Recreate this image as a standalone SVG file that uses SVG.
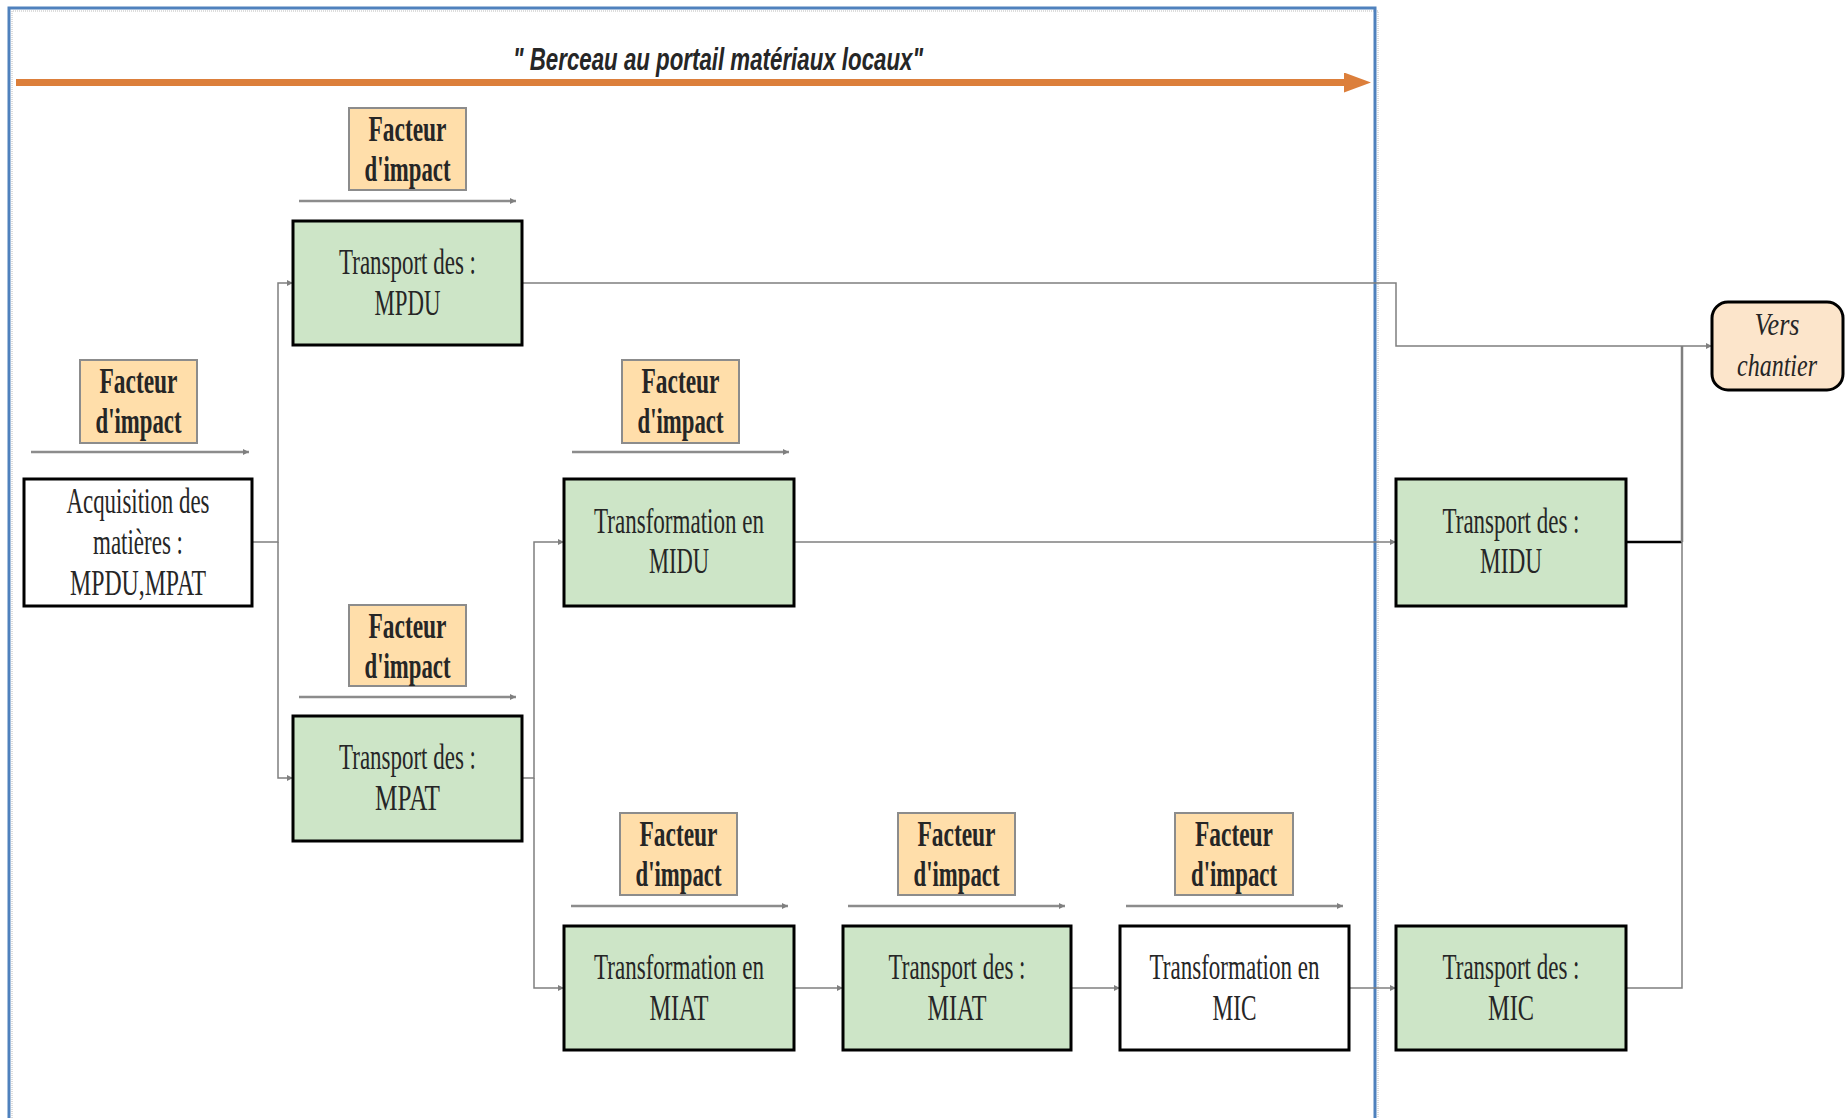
<svg xmlns="http://www.w3.org/2000/svg" width="1847" height="1118" viewBox="0 0 1847 1118">
<defs>
<style>
.box{stroke:#000;stroke-width:3}
.green{fill:#CDE5C7}
.white{fill:#fff}
.fi{fill:#FFDEAA;stroke:#8C8C8C;stroke-width:2}
.vc{fill:#FCE5CB;stroke:#000;stroke-width:3}
.t{font-family:"Liberation Serif","Times New Roman",serif;font-size:35px;fill:#262626;text-anchor:middle}
.b{font-weight:bold}
.i{font-style:italic;font-size:32px}
.conn{stroke:#7F7F7F;stroke-width:1.5;fill:none}
.ul{stroke:#8C8C8C;stroke-width:2.5;fill:none}
</style>
<marker id="ah" viewBox="0 0 6 6" refX="6" refY="3" markerWidth="6" markerHeight="6" markerUnits="userSpaceOnUse" orient="auto">
<path d="M0,0 L6,3 L0,6 z" fill="#7F7F7F"/>
</marker>
<marker id="oa" viewBox="0 0 27 20" refX="0" refY="10" markerWidth="27" markerHeight="20" markerUnits="userSpaceOnUse" orient="auto">
<path d="M0,0 L27,10 L0,20 z" fill="#DC7F3B"/>
</marker>
</defs>
<rect width="1847" height="1118" fill="#fff"/>

<g id="frame">
<path d="M12,1118 V11 H1378 V1118" fill="none" stroke="#BBBBBB" stroke-width="1" stroke-dasharray="1,1"/>
<path d="M9,1118 V8 H1375 V1118" fill="none" stroke="#4F81BD" stroke-width="3"/>
</g>

<g id="title">
<line x1="16" y1="82.5" x2="1344" y2="82.5" stroke="#DC7F3B" stroke-width="7" marker-end="url(#oa)"/>
<text x="513" y="70" font-family="Liberation Sans, Arial, sans-serif" font-size="32" font-weight="bold" font-style="italic" fill="#262626" textLength="410" lengthAdjust="spacingAndGlyphs">" Berceau au portail matériaux locaux"</text>
</g>

<g id="connectors">
<path class="conn" d="M252,542 H278 V283 H293" marker-end="url(#ah)"/>
<path class="conn" d="M278,542 V778 H293" marker-end="url(#ah)"/>
<path class="conn" d="M522,283 H1396 V346 H1712" marker-end="url(#ah)"/>
<path class="conn" d="M522,778 H534 V542 H564" marker-end="url(#ah)"/>
<path class="conn" d="M534,778 V988 H564" marker-end="url(#ah)"/>
<path class="conn" d="M794,542 H1396" marker-end="url(#ah)"/>
<path class="conn" d="M794,988 H843" marker-end="url(#ah)"/>
<path class="conn" d="M1071,988 H1120" marker-end="url(#ah)"/>
<path class="conn" d="M1349,988 H1396" marker-end="url(#ah)"/>
<path d="M1626,542 H1682" stroke="#000" stroke-width="2.5" fill="none"/>
<path d="M1682,542 V346" stroke="#7F7F7F" stroke-width="2.5" fill="none"/>
<path class="conn" d="M1626,988 H1682 V542"/>
<path class="ul" d="M299,201 H516" marker-end="url(#ah)"/>
<path class="ul" d="M31,452 H249" marker-end="url(#ah)"/>
<path class="ul" d="M572,452 H789" marker-end="url(#ah)"/>
<path class="ul" d="M299,697 H516" marker-end="url(#ah)"/>
<path class="ul" d="M571,906 H788" marker-end="url(#ah)"/>
<path class="ul" d="M848,906 H1065" marker-end="url(#ah)"/>
<path class="ul" d="M1126,906 H1343" marker-end="url(#ah)"/>
</g>

<g id="fi-mpdu">
<rect class="fi" x="349" y="108" width="117" height="82"/>
<text class="t b" x="407.5" y="141" textLength="78" lengthAdjust="spacingAndGlyphs">Facteur</text>
<text class="t b" x="407.5" y="181" textLength="86" lengthAdjust="spacingAndGlyphs">d'impact</text>
</g>
<g id="fi-acq">
<rect class="fi" x="80" y="360" width="117" height="83"/>
<text class="t b" x="138.5" y="393" textLength="78" lengthAdjust="spacingAndGlyphs">Facteur</text>
<text class="t b" x="138.5" y="433" textLength="86" lengthAdjust="spacingAndGlyphs">d'impact</text>
</g>
<g id="fi-midu">
<rect class="fi" x="622" y="360" width="117" height="83"/>
<text class="t b" x="680.5" y="393" textLength="78" lengthAdjust="spacingAndGlyphs">Facteur</text>
<text class="t b" x="680.5" y="433" textLength="86" lengthAdjust="spacingAndGlyphs">d'impact</text>
</g>
<g id="fi-mpat">
<rect class="fi" x="349" y="605" width="117" height="81"/>
<text class="t b" x="407.5" y="638" textLength="78" lengthAdjust="spacingAndGlyphs">Facteur</text>
<text class="t b" x="407.5" y="678" textLength="86" lengthAdjust="spacingAndGlyphs">d'impact</text>
</g>
<g id="fi-miat">
<rect class="fi" x="620" y="813" width="117" height="82"/>
<text class="t b" x="678.5" y="846" textLength="78" lengthAdjust="spacingAndGlyphs">Facteur</text>
<text class="t b" x="678.5" y="886" textLength="86" lengthAdjust="spacingAndGlyphs">d'impact</text>
</g>
<g id="fi-tmiat">
<rect class="fi" x="898" y="813" width="117" height="82"/>
<text class="t b" x="956.5" y="846" textLength="78" lengthAdjust="spacingAndGlyphs">Facteur</text>
<text class="t b" x="956.5" y="886" textLength="86" lengthAdjust="spacingAndGlyphs">d'impact</text>
</g>
<g id="fi-mic">
<rect class="fi" x="1175" y="813" width="118" height="82"/>
<text class="t b" x="1234" y="846" textLength="78" lengthAdjust="spacingAndGlyphs">Facteur</text>
<text class="t b" x="1234" y="886" textLength="86" lengthAdjust="spacingAndGlyphs">d'impact</text>
</g>

<g id="acquisition">
<rect class="box white" x="24" y="479" width="228" height="127"/>
<text class="t" x="138" y="513" textLength="143" lengthAdjust="spacingAndGlyphs">Acquisition des</text>
<text class="t" x="138" y="554" textLength="90" lengthAdjust="spacingAndGlyphs">matières :</text>
<text class="t" x="138" y="595" textLength="136" lengthAdjust="spacingAndGlyphs">MPDU,MPAT</text>
</g>
<g id="transport-mpdu">
<rect class="box green" x="293" y="221" width="229" height="124"/>
<text class="t" x="407.5" y="274" textLength="137" lengthAdjust="spacingAndGlyphs">Transport des :</text>
<text class="t" x="407.5" y="315" textLength="66" lengthAdjust="spacingAndGlyphs">MPDU</text>
</g>
<g id="transport-mpat">
<rect class="box green" x="293" y="716" width="229" height="125"/>
<text class="t" x="407.5" y="769" textLength="137" lengthAdjust="spacingAndGlyphs">Transport des :</text>
<text class="t" x="407.5" y="810" textLength="65" lengthAdjust="spacingAndGlyphs">MPAT</text>
</g>
<g id="transformation-midu">
<rect class="box green" x="564" y="479" width="230" height="127"/>
<text class="t" x="679" y="533" textLength="170" lengthAdjust="spacingAndGlyphs">Transformation en</text>
<text class="t" x="679" y="573" textLength="60" lengthAdjust="spacingAndGlyphs">MIDU</text>
</g>
<g id="transport-midu">
<rect class="box green" x="1396" y="479" width="230" height="127"/>
<text class="t" x="1511" y="533" textLength="137" lengthAdjust="spacingAndGlyphs">Transport des :</text>
<text class="t" x="1511" y="573" textLength="62" lengthAdjust="spacingAndGlyphs">MIDU</text>
</g>
<g id="transformation-miat">
<rect class="box green" x="564" y="926" width="230" height="124"/>
<text class="t" x="679" y="979" textLength="170" lengthAdjust="spacingAndGlyphs">Transformation en</text>
<text class="t" x="679" y="1020" textLength="59" lengthAdjust="spacingAndGlyphs">MIAT</text>
</g>
<g id="transport-miat">
<rect class="box green" x="843" y="926" width="228" height="124"/>
<text class="t" x="957" y="979" textLength="137" lengthAdjust="spacingAndGlyphs">Transport des :</text>
<text class="t" x="957" y="1020" textLength="59" lengthAdjust="spacingAndGlyphs">MIAT</text>
</g>
<g id="transformation-mic">
<rect class="box white" x="1120" y="926" width="229" height="124"/>
<text class="t" x="1234.5" y="979" textLength="170" lengthAdjust="spacingAndGlyphs">Transformation en</text>
<text class="t" x="1234.5" y="1020" textLength="44" lengthAdjust="spacingAndGlyphs">MIC</text>
</g>
<g id="transport-mic">
<rect class="box green" x="1396" y="926" width="230" height="124"/>
<text class="t" x="1511" y="979" textLength="137" lengthAdjust="spacingAndGlyphs">Transport des :</text>
<text class="t" x="1511" y="1020" textLength="46" lengthAdjust="spacingAndGlyphs">MIC</text>
</g>
<g id="vers-chantier">
<rect class="vc" x="1712" y="302" width="131" height="88" rx="16"/>
<text class="t i" x="1777" y="335" textLength="45" lengthAdjust="spacingAndGlyphs">Vers</text>
<text class="t i" x="1777" y="376" textLength="80" lengthAdjust="spacingAndGlyphs">chantier</text>
</g>
</svg>
